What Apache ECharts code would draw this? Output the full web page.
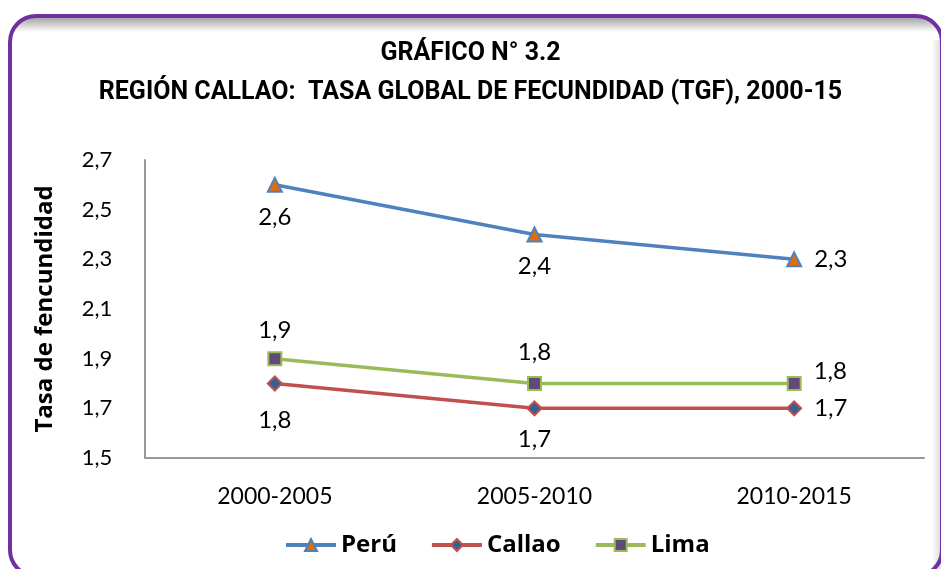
<!DOCTYPE html>
<html>
<head>
<meta charset="utf-8">
<script src="https://cdn.jsdelivr.net/npm/echarts@6/dist/echarts.min.js"></script>
<style>
  html, body { margin: 0; padding: 0; background: #fff; }
  #chart { width: 941px; height: 569px; }
</style>
</head>
<body>
<div id="chart"></div>
<script>
// datos
let categories = ['2000-2005', '2005-2010', '2010-2015']
let peru = [2.6, 2.4, 2.3]
let callao = [1.8, 1.7, 1.7]
let lima = [1.9, 1.8, 1.8]
let yTicks = { min: 1.5, max: 2.7, step: 0.2 }

let fontColor = '#000'
let numFont = 'Lato, "Open Sans", sans-serif'
let comma = v => Number(v).toFixed(1).replace('.', ',')

// etiquetas: posición de cada punto
function points (values, places) {
  return values.map((v, i) => ({
    value: v,
    label: places[i]
  }))
}

let dataLabel = {
  show: true,
  color: '#000',
  fontFamily: numFont,
  fontSize: 24,
  formatter: p => comma(p.value)
}

let dom = echarts.init(document.getElementById('chart'))
let option = {
  backgroundColor: '#fff',
  animation: false,
  title: {
    text: 'GRÁFICO N° 3.2\nREGIÓN CALLAO:  TASA GLOBAL DE FECUNDIDAD (TGF), 2000-15',
    left: 'center',
    top: 29,
    padding: [5, 5, 5, 31],
    textStyle: {
      fontFamily: 'Roboto, sans-serif',
      fontWeight: 'bold',
      fontSize: 25,
      lineHeight: 39,
      color: '#000'
    }
  },
  graphic: [{
    type: 'rect',
    shape: { x: 12, y: 18, width: 925, height: 14, r: [22, 22, 0, 0] },
    style: {
      fill: new echarts.graphic.LinearGradient(0, 0, 0, 1, [
        { offset: 0, color: 'rgba(0,0,0,0.35)' },
        { offset: 1, color: 'rgba(0,0,0,0)' }
      ])
    },
    silent: true
  }, {
    type: 'rect',
    shape: { x: 932, y: 40, width: 9, height: 540 },
    style: {
      fill: new echarts.graphic.LinearGradient(0, 0, 1, 0, [
        { offset: 0, color: 'rgba(0,0,0,0)' },
        { offset: 1, color: 'rgba(0,0,0,0.14)' }
      ])
    },
    silent: true
  }, {
    type: 'rect',
    shape: { x: 10, y: 16, width: 932, height: 560, r: 26 },
    style: { fill: 'none', stroke: '#7030A0', lineWidth: 4 },
    silent: true
  }],
  legend: {
    left: 279,
    top: 528,
    itemWidth: 50,
    itemHeight: 15,
    itemGap: 33,
    lineStyle: { width: 4 },
    textStyle: {
      fontFamily: '"Open Sans", sans-serif',
      fontWeight: 'bold',
      fontSize: 24,
      color: '#000'
    }
  },
  grid: {
    left: 145,
    right: 17,
    top: 160,
    bottom: 111
  },
  xAxis: {
    type: 'category',
    data: categories,
    boundaryGap: true,
    axisLine: { lineStyle: { color: '#999', width: 2 } },
    axisTick: { show: false },
    axisLabel: {
      margin: 27,
      color: fontColor,
      fontFamily: numFont,
      fontSize: 23
    }
  },
  yAxis: {
    type: 'value',
    min: yTicks.min,
    max: yTicks.max,
    interval: yTicks.step,
    name: 'Tasa de fencundidad',
    nameLocation: 'middle',
    nameGap: 88,
    nameTextStyle: {
      fontFamily: '"Open Sans", sans-serif',
      fontWeight: 'bold',
      fontSize: 24,
      color: '#000'
    },
    axisLine: { show: true, lineStyle: { color: '#999', width: 2 } },
    axisTick: { show: false },
    splitLine: { show: false },
    axisLabel: {
      margin: 48,
      align: 'center',
      color: fontColor,
      fontFamily: numFont,
      fontSize: 22,
      formatter: comma
    }
  },
  series: [{
    name: 'Perú',
    type: 'line',
    data: points(peru, [
      { position: 'bottom', distance: 12 },
      { position: 'bottom', distance: 12 },
      { position: 'right', distance: 12 }
    ]),
    symbol: 'triangle',
    symbolSize: 14,
    lineStyle: { color: '#4F81BD', width: 3.5 },
    itemStyle: { color: '#E36C09', borderColor: '#4F81BD', borderWidth: 2 },
    label: dataLabel
  }, {
    name: 'Callao',
    type: 'line',
    data: points(callao, [
      { position: 'bottom', distance: 17 },
      { position: 'bottom', distance: 11 },
      { position: 'right', distance: 12 }
    ]),
    symbol: 'diamond',
    symbolSize: 14,
    lineStyle: { color: '#C0504D', width: 3.5 },
    itemStyle: { color: '#376092', borderColor: '#C0504D', borderWidth: 2 },
    label: dataLabel
  }, {
    name: 'Lima',
    type: 'line',
    data: points(lima, [
      { position: 'top', distance: 9 },
      { position: 'top', distance: 12 },
      { position: 'right', distance: 12, offset: [0, -12] }
    ]),
    symbol: 'rect',
    symbolSize: 13,
    lineStyle: { color: '#9BBB59', width: 3.5 },
    itemStyle: { color: '#604A7B', borderColor: '#9BBB59', borderWidth: 2 },
    label: dataLabel
  }]
}
dom.setOption(option)
window.addEventListener('resize', () => dom.resize())
</script>
</body>
</html>
